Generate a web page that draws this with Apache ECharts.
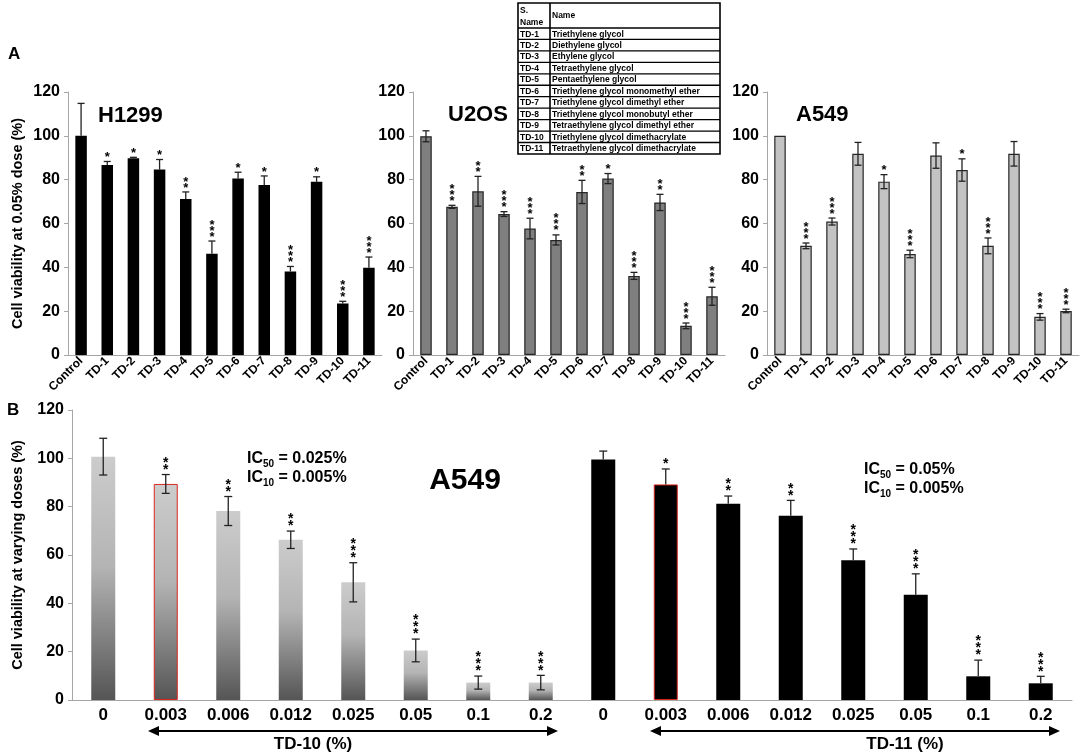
<!DOCTYPE html>
<html style="height: 100%">

<head>
    <meta charset="utf-8">
</head>

<body style="height: 100%; margin: 0; background: #fff">
    <div id="container" style="width: 1084px; height: 754px"></div>
    <script src="https://cdn.jsdelivr.net/npm/echarts@6/dist/echarts.min.js"></script>
    <script type="text/javascript">
        // panel A: viability at 0.05% dose
        var tdLabels = ['Control', 'TD-1', 'TD-2', 'TD-3', 'TD-4', 'TD-5', 'TD-6', 'TD-7', 'TD-8', 'TD-9', 'TD-10', 'TD-11'];
        var tdNames = ['Triethylene glycol', 'Diethylene glycol', 'Ethylene glycol', 'Tetraethylene glycol',
            'Pentaethylene glycol', 'Triethylene glycol monomethyl ether', 'Triethylene glycol dimethyl ether',
            'Triethylene glycol monobutyl ether', 'Tetraethylene glycol dimethyl ether',
            'Triethylene glycol dimethacrylate', 'Tetraethylene glycol dimethacrylate'];

        var h1299Mean = [100, 86.7, 89.8, 84.6, 71.2, 46.2, 80.5, 77.6, 38.1, 79, 23.5, 39.8];
        var h1299Err = [14.8, 1.6, 0.4, 4.6, 3.2, 5.8, 2.9, 4.1, 2.3, 2.3, 1.0, 4.9];
        var h1299Sig = ['', '*', '*', '*', '**', '***', '*', '*', '***', '*', '***', '***'];

        var u2osMean = [99.8, 67.6, 74.7, 64.3, 57.7, 52.5, 74.4, 80.5, 36.1, 69.6, 13.3, 26.8];
        var u2osErr = [2.5, 0.7, 6.8, 1.1, 4.7, 2.3, 5.3, 2.3, 1.6, 3.7, 1.3, 4.1];
        var u2osSig = ['', '***', '**', '***', '***', '***', '**', '*', '***', '**', '***', '***'];

        var a549Mean = [100, 49.8, 60.9, 91.8, 79.1, 46.1, 91, 84.4, 49.8, 91.8, 17.4, 20.1];
        var a549Err = [0, 1.3, 1.6, 5.2, 3.2, 1.7, 5.8, 5.1, 3.6, 5.6, 1.5, 0.8];
        var a549Sig = ['', '***', '***', '', '*', '***', '', '*', '***', '', '***', '***'];

        // panel B: A549 at varying doses
        var doseLabels = ['0', '0.003', '0.006', '0.012', '0.025', '0.05', '0.1', '0.2'];
        var td10Mean = [100.7, 89.4, 78.2, 66.3, 48.7, 20.5, 7.2, 7.2];
        var td10Err = [7.6, 3.9, 6.0, 3.6, 8.1, 4.7, 2.7, 3.0];
        var td10Sig = ['', '**', '**', '**', '***', '***', '***', '***'];
        var td11Mean = [99.5, 89.2, 81.2, 76.2, 57.8, 43.6, 9.8, 6.9];
        var td11Err = [3.5, 6.4, 3.2, 6.4, 4.7, 8.6, 6.7, 2.9];
        var td11Sig = ['', '*', '**', '**', '***', '***', '***', '***'];

        var font = 'Arial, "Liberation Sans", sans-serif';
        var axisGray = '#a6a6a6';

        var dom = document.getElementById("container");
        var myChart = echarts.init(dom);

        function gridAt(left, top, width, height) {
            return { left: left, top: top, width: width, height: height, outerBoundsMode: 'none', containLabel: false };
        }

        function yAxisFor(gi, show, name, nameGap) {
            return {
                type: 'value', gridIndex: gi, min: 0, max: 120, interval: 20,
                name: name || '', nameLocation: 'middle', nameGap: nameGap || 0,
                nameTextStyle: { fontFamily: font, fontWeight: 'bold', fontSize: 14.5, color: '#000' },
                axisLine: { show: show, lineStyle: { color: axisGray } },
                axisTick: { show: show, length: 4, lineStyle: { color: axisGray } },
                axisLabel: { show: show, fontFamily: font, fontWeight: 'bold', fontSize: 16, color: '#000', margin: 8 },
                splitLine: { show: false }
            };
        }

        function xAxisFor(gi, labels, rotate, fontSize, margin) {
            return {
                type: 'category', gridIndex: gi, data: labels,
                axisLine: { lineStyle: { color: axisGray } },
                axisTick: { length: 4, lineStyle: { color: axisGray } },
                axisLabel: { interval: 0, rotate: rotate, fontFamily: font, fontWeight: 'bold', fontSize: fontSize, color: '#000', margin: margin }
            };
        }

        function barSeries(gi, values, itemStyle, width, redIndex) {
            return {
                type: 'bar', xAxisIndex: gi, yAxisIndex: gi, barWidth: width, itemStyle: itemStyle,
                data: values.map(function (v, i) {
                    return i === redIndex ? { value: v, itemStyle: { borderColor: '#d9261c', borderWidth: 1 } } : v;
                })
            };
        }

        // error bars and significance stars
        function errSeries(gi, means, errs, sigs, upOnly, capW, starFont, starPitch) {
            return {
                type: 'custom', xAxisIndex: gi, yAxisIndex: gi, z: 5, silent: true,
                data: means.map(function (m, i) { return [i, m, errs[i]]; }),
                renderItem: function (params, api) {
                    var i = api.value(0), m = api.value(1), e = api.value(2);
                    var top = api.coord([i, m + e]);
                    var bot = api.coord([i, upOnly ? m : m - e]);
                    var st = { stroke: '#222', lineWidth: 1.3 };
                    var kids = [];
                    if (e > 0) {
                        kids.push({ type: 'line', shape: { x1: top[0], y1: top[1], x2: bot[0], y2: bot[1] }, style: st });
                        kids.push({ type: 'line', shape: { x1: top[0] - capW / 2, y1: top[1], x2: top[0] + capW / 2, y2: top[1] }, style: st });
                        if (!upOnly) {
                            kids.push({ type: 'line', shape: { x1: bot[0] - capW / 2, y1: bot[1], x2: bot[0] + capW / 2, y2: bot[1] }, style: st });
                        }
                    }
                    var sig = sigs[params.dataIndex];
                    if (sig) {
                        kids.push({
                            type: 'text',
                            style: {
                                text: sig.split('').join('\n'), x: top[0], y: top[1] - 1,
                                align: 'center', verticalAlign: 'bottom', fill: '#000',
                                font: starFont, lineHeight: starPitch
                            }
                        });
                    }
                    return { type: 'group', children: kids };
                }
            };
        }

        var grad = new echarts.graphic.LinearGradient(0, 0, 0, 1, [
            { offset: 0, color: '#cccccc' },
            { offset: 0.45, color: '#b4b4b4' },
            { offset: 1, color: '#555555' }
        ]);

        // table of compounds
        var tableKids = [];
        var tx = 518, ty = 3, tw = 202, c1 = 32, hh = 25, rh = 11.45;
        var th = hh + rh * tdNames.length;
        tableKids.push({ type: 'rect', shape: { x: tx, y: ty, width: tw, height: th }, style: { fill: '#fff', stroke: '#000', lineWidth: 1.6 } });
        tableKids.push({ type: 'line', shape: { x1: tx + c1, y1: ty, x2: tx + c1, y2: ty + th }, style: { stroke: '#000', lineWidth: 1.6 } });
        var tfont = 'bold 8.5px ' + font;
        tableKids.push({ type: 'text', style: { text: 'S.', x: tx + 2, y: ty + 8, verticalAlign: 'middle', font: tfont, fill: '#000' } });
        tableKids.push({ type: 'text', style: { text: 'Name', x: tx + 2, y: ty + 19.5, verticalAlign: 'middle', font: tfont, fill: '#000' } });
        tableKids.push({ type: 'text', style: { text: 'Name', x: tx + c1 + 2, y: ty + 13, verticalAlign: 'middle', font: tfont, fill: '#000' } });
        tdNames.forEach(function (n, k) {
            var y0 = ty + hh + rh * k;
            tableKids.push({ type: 'line', shape: { x1: tx, y1: y0, x2: tx + tw, y2: y0 }, style: { stroke: '#000', lineWidth: 1.3 } });
            tableKids.push({ type: 'text', style: { text: tdLabels[k + 1], x: tx + 2, y: y0 + rh / 2 + 0.5, verticalAlign: 'middle', font: tfont, fill: '#000' } });
            tableKids.push({ type: 'text', style: { text: n, x: tx + c1 + 2, y: y0 + rh / 2 + 0.5, verticalAlign: 'middle', font: tfont, fill: '#000' } });
        });

        function arrow(x1, x2, y) {
            return {
                type: 'group', children: [
                    { type: 'line', shape: { x1: x1 + 6, y1: y, x2: x2 - 6, y2: y }, style: { stroke: '#000', lineWidth: 2 } },
                    { type: 'polygon', shape: { points: [[x1, y], [x1 + 11, y - 5], [x1 + 11, y + 5]] }, style: { fill: '#000' } },
                    { type: 'polygon', shape: { points: [[x2, y], [x2 - 11, y - 5], [x2 - 11, y + 5]] }, style: { fill: '#000' } }
                ]
            };
        }

        function txt(s, x, y, size, align) {
            return { type: 'text', style: { text: s, x: x, y: y, align: align || 'left', verticalAlign: 'middle', font: 'bold ' + size + 'px ' + font, fill: '#000' } };
        }

        function icText(sub, val, x, y) {
            return {
                type: 'text', style: {
                    text: '{b|IC}{s|' + sub + '}{b| = ' + val + '}', x: x, y: y, verticalAlign: 'middle',
                    rich: {
                        b: { fontFamily: font, fontWeight: 'bold', fontSize: 16, lineHeight: 20, fill: '#000' },
                        s: { fontFamily: font, fontWeight: 'bold', fontSize: 10, lineHeight: 10, verticalAlign: 'bottom', fill: '#000' }
                    }
                }
            };
        }

        option = {
            animation: false,
            backgroundColor: '#fff',
            grid: [
                gridAt(68, 92, 314, 263),
                gridAt(413, 92, 312, 263),
                gridAt(767, 92, 312, 263),
                gridAt(72, 410, 500, 290),
                gridAt(572, 410, 500, 290)
            ],
            xAxis: [
                xAxisFor(0, tdLabels, 45, 12, 4),
                xAxisFor(1, tdLabels, 45, 12, 4),
                xAxisFor(2, tdLabels, 45, 12, 4),
                xAxisFor(3, doseLabels, 0, 17, 7),
                xAxisFor(4, doseLabels, 0, 17, 7)
            ],
            yAxis: [
                yAxisFor(0, true, 'Cell viability at 0.05% dose (%)', 43),
                yAxisFor(1, true),
                yAxisFor(2, true),
                yAxisFor(3, true, 'Cell viability at varying doses (%)', 47),
                yAxisFor(4, false)
            ],
            series: [
                barSeries(0, h1299Mean, { color: '#000' }, 11.5),
                errSeries(0, h1299Mean, h1299Err, h1299Sig, true, 7, 'bold 13px ' + font, 6),
                barSeries(1, u2osMean, { color: '#7f7f7f', borderColor: '#262626', borderWidth: 1.2 }, 11.5),
                errSeries(1, u2osMean, u2osErr, u2osSig, false, 7, 'bold 13px ' + font, 6),
                barSeries(2, a549Mean, { color: '#c3c3c3', borderColor: '#262626', borderWidth: 1.2 }, 11.5),
                errSeries(2, a549Mean, a549Err, a549Sig, false, 7, 'bold 13px ' + font, 6),
                barSeries(3, td10Mean, { color: grad }, 24, 1),
                errSeries(3, td10Mean, td10Err, td10Sig, false, 8, 'bold 14px ' + font, 7),
                barSeries(4, td11Mean, { color: '#000' }, 24, 1),
                errSeries(4, td11Mean, td11Err, td11Sig, true, 8, 'bold 14px ' + font, 7)
            ],
            graphic: [
                { type: 'group', children: tableKids },
                txt('A', 8, 54, 17),
                txt('B', 7, 410, 17),
                txt('H1299', 98, 116, 22),
                txt('U2OS', 448, 115, 22),
                txt('A549', 796, 115, 22),
                txt('A549', 465, 481, 30, 'center'),
                icText('50', '0.025%', 247, 459),
                icText('10', '0.005%', 247, 478),
                icText('50', '0.05%', 864, 470),
                icText('10', '0.005%', 864, 489),
                arrow(148, 558, 731),
                arrow(650, 1060, 731),
                txt('TD-10 (%)', 313, 744, 17, 'center'),
                txt('TD-11 (%)', 905, 744, 17, 'center')
            ]
        };

        myChart.setOption(option);
    </script>
</body>

</html>
